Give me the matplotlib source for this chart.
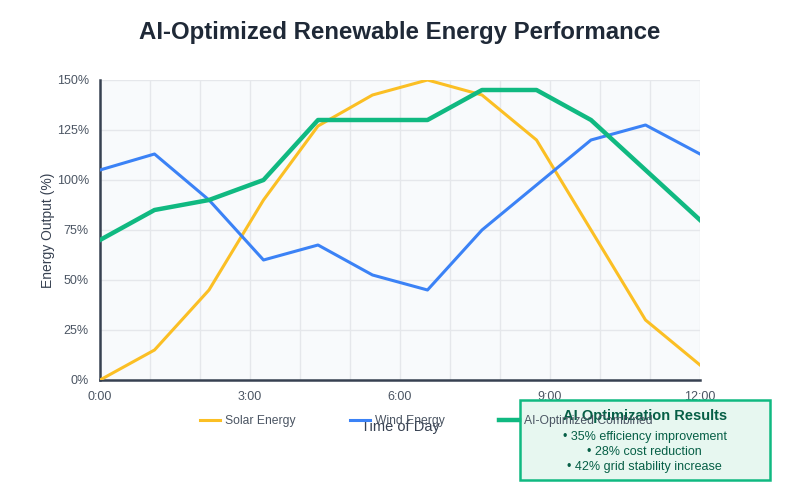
import matplotlib
matplotlib.use("Agg")
import matplotlib.pyplot as plt
from matplotlib.patches import Rectangle

plt.rcParams['font.family'] = ['Liberation Sans', 'DejaVu Sans']

# hours of the day for each sample (12 samples across 0:00-12:00)
hours = [0, 1.09, 2.18, 3.27, 4.36, 5.45, 6.55, 7.64, 8.73, 9.82, 10.91, 12.0]
solar = [0, 15, 45, 90, 127, 142.5, 150, 142.5, 120, 75, 30, 7.5]
wind = [105, 113, 90, 60, 67.5, 52.5, 45, 75, 97.5, 120, 127.5, 113]
combined = [70, 85, 90, 100, 130, 130, 130, 145, 145, 130, 105, 80]

xticks = [0, 3, 6, 9, 12]
xtick_labels = ['0:00', '3:00', '6:00', '9:00', '12:00']
yticks = [0, 25, 50, 75, 100, 125, 150]

results = ['• 35% efficiency improvement',
           '• 28% cost reduction',
           '• 42% grid stability increase']

fig = plt.figure(figsize=(8, 5), dpi=100)
ax = fig.add_axes([0.125, 0.24, 0.75, 0.6])
ax.set_facecolor('#f8fafc')

ax.plot(hours, solar, color='#fbbf24', lw=2.2, label='Solar Energy', zorder=3)
ax.plot(hours, wind, color='#3b82f6', lw=2.2, label='Wind Energy', zorder=3)
ax.plot(hours, combined, color='#10b981', lw=3.2, label='AI-Optimized Combined', zorder=4)

ax.set_xlim(0, 12)
ax.set_ylim(0, 150)
ax.set_xticks(range(13), minor=True)
ax.set_xticks(xticks)
ax.set_xticklabels(xtick_labels)
ax.set_yticks(yticks)
ax.set_yticklabels([f'{v}%' for v in yticks])
ax.grid(True, which='both', color='#e5e7eb', lw=1)
ax.set_axisbelow(True)
ax.tick_params(which='both', length=0, labelsize=9, colors='#4b5563')
ax.tick_params(axis='x', pad=8)
ax.tick_params(axis='y', pad=8)

for s in ['top', 'right']:
    ax.spines[s].set_visible(False)
for s in ['left', 'bottom']:
    ax.spines[s].set_color('#374151')
    ax.spines[s].set_linewidth(1.8)

ax.set_xlabel('Time of Day', fontsize=10.5, color='#374151', labelpad=12)
ax.set_ylabel('Energy Output (%)', fontsize=10, color='#374151', labelpad=1)

fig.suptitle('AI-Optimized Renewable Energy Performance', fontsize=17.3,
             fontweight='bold', color='#1f2937', y=0.936, va='center')

# results box
box = Rectangle((0.65, 0.04), 0.3125, 0.16, transform=fig.transFigure,
                facecolor='#e7f7f0', edgecolor='#10b981', lw=1.8, zorder=1)
fig.patches.append(box)
fig.text(0.806, 0.168, 'AI Optimization Results', ha='center', va='center',
         fontsize=10.5, fontweight='bold', color='#065f46', zorder=2)
for i, line in enumerate(results):
    fig.text(0.806, 0.126 - i * 0.03, line, ha='center', va='center',
             fontsize=9, color='#065f46', zorder=2)

leg = fig.legend(loc='center left', bbox_to_anchor=(0.25, 0.158), ncol=3,
                 frameon=False, fontsize=8.7, handlelength=1.65, handletextpad=0.4,
                 columnspacing=4.5, borderpad=0, borderaxespad=0)
for t in leg.get_texts():
    t.set_color('#4b5563')
leg.set_zorder(5)

plt.savefig('out.png', dpi=100)
